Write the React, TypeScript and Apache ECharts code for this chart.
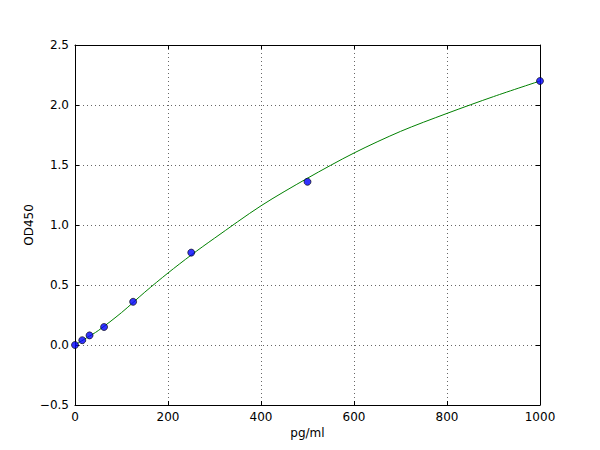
import { useEffect, useRef } from 'react'
import * as echarts from 'echarts'

// standards (pg/ml) and measured OD450
const concentrations = [0, 15.6, 31.25, 62.5, 125, 250, 500, 1000]
const odValues = [0.0, 0.04, 0.08, 0.15, 0.36, 0.77, 1.36, 2.2]

// fitted curve
const fitX = [0, 25, 50, 100, 150, 200, 250, 300, 400, 500, 600, 700, 800, 900, 1000]
const fitY = [0.0, 0.06, 0.12, 0.27, 0.44, 0.6, 0.75, 0.89, 1.16, 1.39, 1.6, 1.78, 1.93, 2.07, 2.2]

const xTicks = { min: 0, max: 1000, interval: 200 }
const yTicks = { min: -0.5, max: 2.5, interval: 0.5 }

const font = 'DejaVu Sans'

export default function App() {
  const ref = useRef<HTMLDivElement>(null)

  useEffect(() => {
    if (!ref.current) return
    const chart = echarts.init(ref.current, undefined, { renderer: 'svg' })

    const axisLine = { show: true, onZero: false, lineStyle: { color: '#000', width: 1 } }
    const tick = { show: true, inside: true, length: 4, lineStyle: { color: '#000', width: 1 } }
    const grid = { show: true, lineStyle: { color: '#000', width: 0.6, type: [1, 3] } }

    chart.setOption({
      animation: false,
      backgroundColor: '#fff',
      grid: { left: 75, right: 60, top: 45, bottom: 45, containLabel: false },
      xAxis: [
        {
          type: 'value',
          ...xTicks,
          name: 'pg/ml',
          nameLocation: 'middle',
          nameGap: 22,
          nameMoveOverlap: false,
          nameTextStyle: { color: '#000', fontSize: 12, fontFamily: font },
          axisLine,
          axisTick: tick,
          splitLine: grid,
          axisLabel: { color: '#000', fontSize: 12, fontFamily: font, margin: 6, formatter: (v: number) => String(v) },
        },
        {
          type: 'value',
          position: 'top',
          ...xTicks,
          axisLine,
          axisTick: tick,
          splitLine: { show: false },
          axisLabel: { show: false },
        },
      ],
      yAxis: [
        {
          type: 'value',
          ...yTicks,
          name: 'OD450',
          nameLocation: 'middle',
          nameRotate: 90,
          nameGap: 40,
          nameMoveOverlap: false,
          nameTextStyle: { color: '#000', fontSize: 12, fontFamily: font },
          axisLine,
          axisTick: tick,
          splitLine: grid,
          axisLabel: {
            color: '#000',
            fontSize: 12,
            fontFamily: font,
            margin: 6,
            formatter: (v: number) => v.toFixed(1).replace('-', '\u2212'),
          },
        },
        {
          type: 'value',
          position: 'right',
          ...yTicks,
          axisLine,
          axisTick: tick,
          splitLine: { show: false },
          axisLabel: { show: false },
        },
      ],
      series: [
        {
          type: 'line',
          data: fitX.map((x, i) => [x, fitY[i]]),
          smooth: 0.3,
          showSymbol: false,
          lineStyle: { color: '#008000', width: 1 },
          z: 2,
        },
        {
          type: 'scatter',
          data: concentrations.map((x, i) => [x, odValues[i]]),
          symbolSize: 7,
          itemStyle: { color: '#0000ff', borderColor: '#000', borderWidth: 0.8 },
          clip: false,
          z: 3,
        },
      ],
    })

    return () => chart.dispose()
  }, [])

  return <div ref={ref} style={{ position: 'fixed', left: 0, top: 0, width: 600, height: 450 }} />
}
